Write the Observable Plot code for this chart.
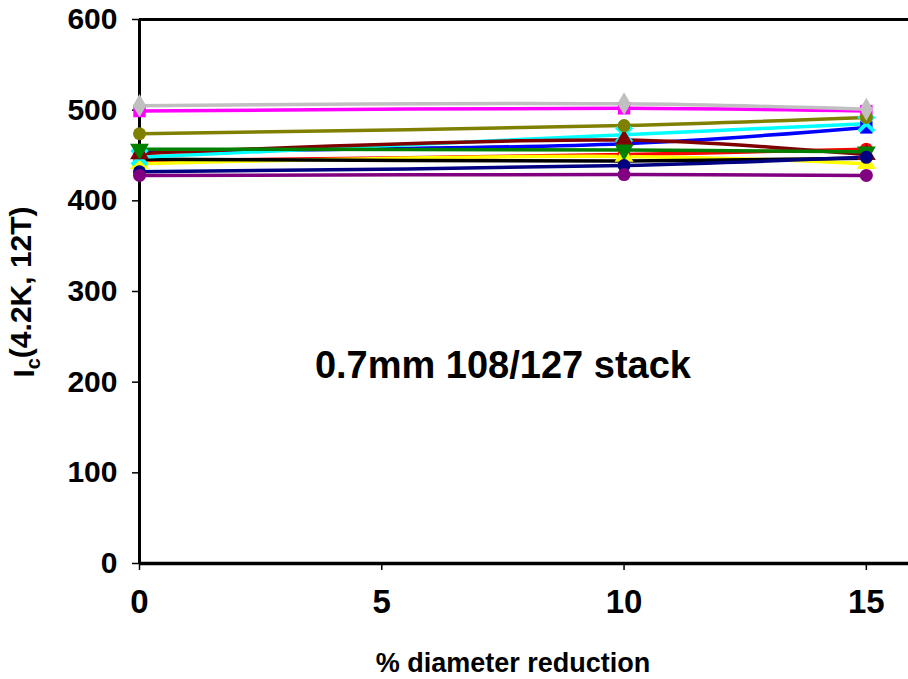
<!DOCTYPE html>
<html>
<head>
<meta charset="utf-8">
<script src="https://cdn.jsdelivr.net/npm/d3@7"></script>
<script src="https://cdn.jsdelivr.net/npm/@observablehq/plot@0.6"></script>
<style>
  html, body { margin: 0; padding: 0; background: #fff; }
  #chart svg { display: block; }
</style>
</head>
<body>
<div id="chart"></div>
<script>
// % diameter reduction at which Ic was measured
const reductions = [0, 10, 15];

// Ic(4.2K, 12T) for each wire in the 0.7mm 108/127 stack
const grayWire    = [505, 507, 501];
const magentaWire = [499, 502, 499];
const oliveWire   = [474, 483, 492];
const cyanWire    = [448, 473, 485];
const blueWire    = [455, 463, 481];
const maroonWire  = [452, 467, 451];
const greenWire   = [457, 456, 454];
const redWire     = [444, 451, 457];
const yellowWire  = [441, 449, 441];
const blackWire   = [446, 444, 447];
const navyWire    = [432, 439, 448];
const purpleWire  = [428, 429, 428];

// Series in drawing order (bottom to top)
const seriesNames   = ["magenta", "blue", "red", "yellow", "black", "cyan", "maroon", "green", "navy", "purple", "olive", "gray"];
const seriesValues  = [magentaWire, blueWire, redWire, yellowWire, blackWire, cyanWire, maroonWire, greenWire, navyWire, purpleWire, oliveWire, grayWire];
const seriesColors  = ["#FF00FF", "#0000FF", "#FF0000", "#FFFF00", "#000000", "#00FFFF", "#800000", "#008000", "#000080", "#800080", "#808000", "#C0C0C0"];
const seriesSymbols = ["square", "square", "circle", "triangle", null, "times", "triangle", "triangle", "circle", "circle", "circle", "diamond"];
const seriesRotate  = [0, 0, 0, 0, 0, 0, 0, 180, 0, 0, 0, 0];

// Axes
const xTicks = [0, 5, 10, 15];
const yTicks = [0, 100, 200, 300, 400, 500, 600];

// In-plot annotation
const noteX = [7.5];
const noteY = [218];
const noteText = ["0.7mm 108/127 stack"];

const rows = seriesNames.flatMap((name, i) =>
  reductions.map((r, j) => ({series: name, reduction: r, ic: seriesValues[i][j]}))
);

const font = "'Liberation Sans', Arial, Helvetica, sans-serif";

const marks = [
  // plot frame: left, bottom and top edges
  Plot.ruleX([0], {y1: 0, y2: 600, stroke: "#000", strokeWidth: 3}),
  Plot.ruleY([600], {stroke: "#000", strokeWidth: 3}),
  Plot.ruleY([0], {stroke: "#000", strokeWidth: 3.5}),
  Plot.axisY({
    ticks: yTicks, tickSize: 7, tickPadding: 15, tickFormat: d => String(d),
    fontSize: 30, fontWeight: "bold", fontFamily: font, strokeWidth: 1.5, label: null
  }),
  Plot.axisX({
    ticks: xTicks, tickSize: 7, tickPadding: 19, tickFormat: d => String(d),
    fontSize: 33, fontWeight: "bold", fontFamily: font, strokeWidth: 1.5, label: null
  }),
  // smoothed connecting lines
  ...seriesNames.map((name, i) =>
    Plot.line(rows.filter(d => d.series === name), {
      x: "reduction", y: "ic", stroke: seriesColors[i], strokeWidth: 3.5, curve: "catmull-rom"
    })
  ),
  // markers
  ...seriesNames.map((name, i) => seriesSymbols[i] == null ? null :
    Plot.dot(rows.filter(d => d.series === name), {
      x: "reduction", y: "ic",
      symbol: seriesSymbols[i],
      r: seriesSymbols[i] === "circle" ? 6.5 : 7,
      rotate: seriesRotate[i],
      fill: seriesSymbols[i] === "times" ? "none" : seriesColors[i],
      stroke: seriesSymbols[i] === "times" ? seriesColors[i] : "none",
      strokeWidth: seriesSymbols[i] === "times" ? 4 : 0
    })
  ).filter(Boolean),
  Plot.text(noteText, {
    x: (d, i) => noteX[i], y: (d, i) => noteY[i], text: d => d,
    fontSize: 38, fontWeight: "bold", fontFamily: font, fill: "#000"
  })
];

const chart = Plot.plot({
  width: 908,
  height: 679,
  marginLeft: 139,
  marginRight: 0,
  marginTop: 19,
  marginBottom: 116,
  style: {background: "#fff", fontFamily: font, color: "#000"},
  x: {domain: [0, 15.87]},
  y: {domain: [0, 600]},
  marks
});

// axis titles (the y title carries a subscript, so it is written with tspans)
const svg = d3.select(chart);
const yTitle = svg.append("text")
  .attr("transform", "translate(34,292) rotate(-90)")
  .attr("text-anchor", "middle")
  .attr("font-family", font)
  .attr("font-weight", "bold")
  .attr("font-size", 30)
  .attr("fill", "#000");
yTitle.append("tspan").text("I");
yTitle.append("tspan").attr("font-size", 20).attr("dy", "0.3em").text("c");
yTitle.append("tspan").attr("dy", "-0.3em").text("(4.2K, 12T)");

svg.append("text")
  .attr("x", 513).attr("y", 672)
  .attr("text-anchor", "middle")
  .attr("font-family", font)
  .attr("font-weight", "bold")
  .attr("font-size", 27)
  .attr("fill", "#000")
  .text("% diameter reduction");

document.getElementById("chart").appendChild(chart);
</script>
</body>
</html>
